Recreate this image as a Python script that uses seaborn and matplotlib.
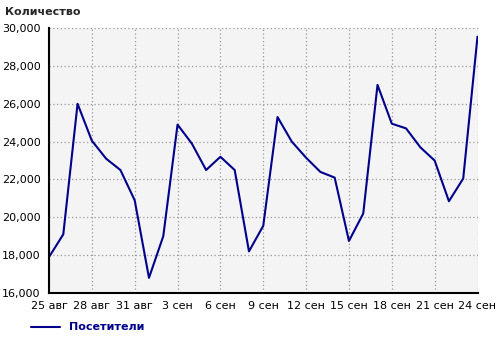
import matplotlib
matplotlib.use("Agg")
import matplotlib.pyplot as plt
import seaborn as sns
import numpy as np
import pandas as pd

# Data: daily visitors, 25 Aug .. 24 Sep
days = list(range(31))
visitors = [17900, 19100, 26000, 24050, 23100, 22500, 20900, 16800, 19000,
            24900, 23900, 22500, 23200, 22500, 18200, 19550, 25300, 24000,
            23150, 22400, 22100, 18750, 20200, 27000, 24950, 24700, 23700,
            23000, 20850, 22050, 29550]
tick_pos = [0, 3, 6, 9, 12, 15, 18, 21, 24, 27, 30]
tick_labels = ["25 авг", "28 авг", "31 авг", "3 сен", "6 сен", "9 сен",
               "12 сен", "15 сен", "18 сен", "21 сен", "24 сен"]
y_ticks = [16000, 18000, 20000, 22000, 24000, 26000, 28000, 30000]
series_name = "Посетители"
y_title = "Количество"

df = pd.DataFrame({"day": days, "value": visitors})

sns.set_style("white")
plt.rcParams['font.family'] = ['DejaVu Sans']

fig = plt.figure(figsize=(5.0, 3.39), dpi=100)
ax = fig.add_axes([0.098, 0.1357, 0.857, 0.7813])
ax.set_facecolor("#f4f4f4")

line_color = "#00008B"
sns.lineplot(data=df, x="day", y="value", ax=ax, color=line_color,
             linewidth=1.5, legend=False)

ax.set_xlim(0, 30)
ax.set_ylim(16000, 30000)
ax.set_xticks(tick_pos)
ax.set_xticklabels(tick_labels, fontsize=8)
ax.set_yticks(y_ticks)
ax.set_yticklabels([f"{v:,}" for v in y_ticks], fontsize=8)
ax.set_xlabel("")
ax.set_ylabel("")

ax.grid(True, color="#999999", linestyle=(0, (1, 2)), linewidth=0.9)
for side in ["top", "right"]:
    ax.spines[side].set_visible(False)
for side in ["left", "bottom"]:
    ax.spines[side].set_color("black")
    ax.spines[side].set_linewidth(1.5)
ax.tick_params(axis="both", direction="out", length=4, width=1,
               color="black", labelcolor="black", pad=2)

fig.text(0.01, 0.965, y_title, fontsize=8, fontweight="bold",
         ha="left", va="center")

# legend below
fig.lines.append(plt.Line2D([0.062, 0.12], [0.036, 0.036],
                            transform=fig.transFigure, color=line_color,
                            linewidth=1.5))
fig.text(0.138, 0.036, series_name, fontsize=8, fontweight="bold",
         color=line_color, ha="left", va="center")

fig.savefig("out.png", dpi=100)
